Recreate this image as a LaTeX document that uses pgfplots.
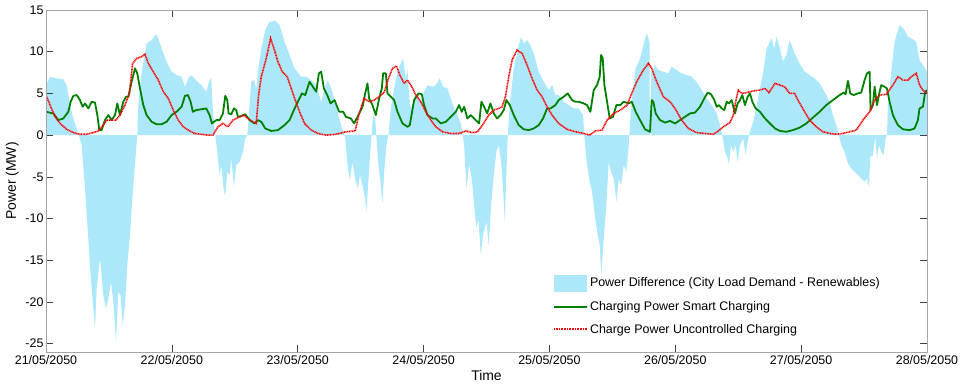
\documentclass[border=0pt]{standalone}
\usepackage{fontspec}
\setmainfont{Liberation Sans}
\usepackage{pgfplots}
\pgfplotsset{compat=1.18}
\usepackage{pgfplotstable}

\definecolor{areacol}{RGB}{172,232,250}
\definecolor{smartgreen}{RGB}{0,128,0}
\definecolor{uncred}{RGB}{255,0,0}

\pgfplotstableread{
h y
0 6.0
0.77 7.0
2.0 6.8
3.31 6.7
3.94 6.0
4.58 3.6
5.21 2.0
5.85 0.8
6.36 -0.2
6.8 -1.2
7.44 -6.4
7.94 -11.2
8.39 -15.6
8.71 -18.4
9.02 -20.8
9.34 -23.2
9.66 -18.4
10.29 -14.8
10.93 -19.2
11.44 -20.8
11.88 -19.6
12.39 -17.6
12.84 -20.0
13.34 -24.8
13.79 -18.8
14.23 -19.2
14.62 -22.8
15.06 -20.4
15.5 -15.6
16.01 -12.0
16.65 -6.0
17.16 -2.0
17.41 0
17.6 3.6
18.24 7.6
19.19 11.0
20.14 11.4
20.97 12.1
21.41 11.6
22.05 10.4
23.0 8.8
23.95 7.6
24.9 7.2
25.86 7.0
26.49 5.8
27.13 6.8
27.7 7.2
28.66 6.6
29.61 6.0
30.56 5.2
31.2 6.6
31.52 6.8
31.83 2.8
32.28 0
32.66 -2.0
33.1 -4.8
33.42 -3.6
33.93 -6.8
34.18 -7.2
34.57 -4.4
35.01 -4.8
35.33 -2.8
35.84 -6.2
36.28 -3.6
36.92 -3.2
37.55 -2.0
38.0 -0.4
38.38 0
38.82 3.6
39.14 6.4
39.65 6.6
40.09 5.6
40.41 7.6
41.05 10.4
41.81 12.6
42.63 13.6
43.71 13.7
44.54 13.2
45.49 11.2
46.45 9.6
47.4 8.0
48.67 7.0
49.62 7.0
50.58 6.6
51.53 6.0
52.48 4.0
53.12 5.6
53.75 6.6
54.39 5.6
55.34 3.6
55.9 2.0
56.67 0.4
57.05 -0.2
57.5 -3.6
57.94 -5.4
58.45 -3.2
58.95 -5.2
59.46 -6.4
59.85 -4.8
60.35 -6.0
60.86 -7.6
61.11 -9.2
61.5 -5.2
61.94 -1.2
62.38 2.4
62.77 2.0
63.02 -0.4
63.4 -3.6
63.85 -6.0
64.16 -8.2
64.48 -4.4
64.93 -1.2
65.31 0
65.75 3.2
66.39 5.6
67.02 7.6
67.66 8.6
68.1 9.2
68.61 6.8
68.93 7.8
69.37 3.6
69.75 3.2
70.2 4.6
70.83 5.0
71.47 4.0
72.1 5.2
72.74 6.0
73.69 5.8
74.33 6.0
75.09 6.8
75.73 5.8
76.55 5.6
77.19 4.4
77.82 3.2
78.46 2.4
79.09 1.4
79.41 0.2
79.73 -1.2
80.17 -6.4
80.68 -3.6
81.19 -5.2
81.64 -8.4
82.08 -11.2
82.46 -10.0
82.91 -14.4
83.35 -12.0
83.99 -10.4
84.43 -13.2
84.88 -8.4
85.39 -4.8
85.89 -2.0
86.34 -1.2
86.78 -3.2
87.16 -6.4
87.48 -10.4
87.8 -4.4
88.05 0
88.44 3.6
89.2 8.0
90.15 10.8
90.6 11.8
91.1 11.0
91.74 11.4
92.37 10.8
93.01 9.8
93.96 7.6
94.92 6.4
95.87 5.4
96.5 6.0
97.14 4.8
97.77 4.8
98.73 4.0
99.68 3.6
100.63 3.2
101.59 3.2
102.41 2.4
102.67 -0.2
103.17 -3.6
103.68 -5.6
104.13 -6.8
104.57 -9.2
105.08 -11.6
105.59 -13.2
105.9 -16.8
106.35 -12.4
106.86 -8.4
107.3 -3.2
107.75 -4.4
108.26 -5.2
108.77 -8.0
109.21 -5.2
109.66 -6.0
110.16 -3.6
110.67 -4.4
111.12 -1.2
111.43 2.0
111.94 5.6
112.45 8.0
113.28 9.2
114.1 11.2
114.55 12.2
114.87 11.6
115.1 11.0
115.15 0
115.35 0
115.4 7.6
115.63 7.6
116.14 8.4
116.77 7.8
117.73 7.6
118.68 7.4
119.31 8.2
120.27 7.8
121.22 7.4
122.17 7.2
123.13 7.0
124.08 6.4
125.03 5.4
125.98 4.4
126.94 3.6
127.89 2.6
128.53 1.2
128.97 0
129.48 -2.0
129.99 -2.8
130.24 -3.6
130.62 -1.2
131.07 -2.0
131.51 -1.2
131.89 -3.2
132.34 -1.2
132.97 -0.4
133.42 -2.4
133.8 -0.8
134.24 0.4
134.88 1.6
135.51 3.6
136.15 5.6
136.78 7.6
137.42 10.4
138.05 11.2
138.37 11.6
138.88 10.4
139.33 11.8
139.96 10.4
140.54 8.8
141.17 9.6
141.81 11.4
142.76 9.8
143.71 8.6
144.66 7.6
145.62 7.2
146.57 6.8
147.52 6.2
148.48 5.2
149.43 4.0
150.06 2.4
150.7 1.2
151.21 0
151.65 -1.2
152.29 -2.0
152.92 -3.4
153.56 -4.0
154.19 -4.4
154.83 -4.8
155.46 -5.2
156.1 -5.6
156.55 -5.2
156.93 -6.2
157.18 -2.6
157.69 -2.4
158.13 -0.2
158.45 -2.8
158.83 -1.2
159.28 -2.0
159.72 -2.4
160.1 -0.4
160.36 0
160.55 3.6
161.18 7.6
161.82 11.2
162.77 13.2
163.72 12.6
164.36 11.8
164.99 11.6
165.95 11.2
166.58 9.0
167.22 8.4
168 7.6
}\areatable

\pgfplotstableread{
h y
0 2.8
1.40 2.6
2.35 1.8
3.31 2.0
4.26 2.8
4.70 4.0
5.21 4.7
5.85 4.8
6.48 4.2
6.99 3.4
7.44 3.8
8.07 3.2
8.71 4.0
9.34 3.9
9.79 2.4
10.17 0.6
10.61 0.6
11.25 1.8
11.88 2.4
12.52 1.8
13.15 2.4
13.6 3.8
14.1 2.4
14.74 4.0
15.25 4.6
15.7 4.6
16.33 6.4
16.97 8.0
17.41 7.4
17.92 5.6
18.55 3.6
19.19 2.4
20.14 1.6
21.1 1.3
22.05 1.3
23.0 1.6
23.95 2.4
24.9 2.8
25.86 3.4
26.49 4.7
27.07 4.8
27.58 4.0
28.0 2.8
28.66 3.0
29.61 3.1
30.56 3.2
31.2 2.4
31.64 1.4
32.47 1.8
33.1 1.8
33.74 2.6
34.18 4.7
34.57 4.2
34.82 2.6
35.33 2.5
35.84 3.2
36.28 3.0
36.6 2.2
37.23 2.3
38.0 2.5
38.82 1.8
39.78 1.4
40.41 1.8
41.05 1.6
41.81 0.8
42.95 0.5
44.22 0.6
45.49 1.2
46.45 1.8
47.27 3.0
48.03 4.0
48.8 5.0
49.43 4.8
50.26 6.4
50.89 5.8
51.53 5.2
52.04 7.4
52.48 7.6
52.99 5.6
53.63 4.8
54.26 3.8
55.02 4.2
55.9 2.8
56.67 2.8
57.18 2.2
58.13 2.0
58.76 1.4
59.72 2.6
60.35 3.4
60.86 5.0
61.3 6.2
61.62 4.4
62.26 3.6
62.89 2.4
63.53 4.4
64.04 5.6
64.29 7.4
64.8 7.4
65.12 5.0
65.75 4.6
66.39 4.2
67.02 2.8
67.98 1.4
68.93 1.0
69.37 1.2
70.2 4.2
71.03 5.0
71.66 4.9
72.1 3.6
72.74 2.4
73.69 2.0
74.33 2.0
75.28 1.4
76.23 1.6
77.19 2.2
78.14 2.8
78.77 3.6
79.28 2.8
79.73 3.4
80.36 2.0
81.0 2.4
81.95 1.8
82.59 1.4
83.03 4.0
83.54 3.4
84.12 2.6
84.75 3.8
85.39 2.6
86.02 2.0
86.66 2.4
87.29 3.0
87.8 4.2
88.44 3.6
89.2 2.4
90.15 1.2
91.1 0.7
92.06 0.6
93.01 0.8
93.96 1.2
94.79 2.0
95.55 3.2
96.19 3.2
97.14 3.6
97.77 4.2
98.73 4.6
99.49 5.0
100.32 4.2
100.95 4.0
101.59 4.0
102.54 3.8
103.17 3.6
103.81 2.8
104.45 5.4
105.08 6.0
105.59 7.0
105.84 9.6
106.16 9.2
106.48 6.0
106.99 4.0
107.5 2.0
108.13 2.2
108.77 3.6
109.53 3.6
110.16 4.0
111.12 3.8
111.69 4.0
112.45 2.8
113.28 1.8
114.23 0.7
115.18 0.4
115.5 4.2
115.82 4.0
116.26 2.6
117.09 1.8
118.04 1.5
118.99 1.7
119.95 1.4
120.9 1.8
121.85 2.2
122.81 2.6
123.76 2.7
124.71 3.4
125.35 4.2
126.17 5.1
126.81 4.9
127.45 4.2
127.89 3.4
128.33 3.6
128.84 3.2
129.35 3.0
129.8 4.0
130.24 3.8
130.75 4.2
131.38 2.6
131.89 3.8
132.34 4.2
132.78 4.8
133.29 3.6
133.8 4.6
134.24 5.0
134.69 4.0
135.32 3.2
136.15 2.8
137.1 2.0
138.05 1.4
139.01 0.8
139.96 0.5
141.17 0.4
142.44 0.6
143.71 0.9
144.98 1.4
146.25 2.1
147.52 2.8
148.79 3.6
150.06 4.2
151.34 4.8
152.1 5.1
152.48 4.9
152.92 6.5
153.37 5.0
154.0 4.8
154.83 5.0
155.46 5.1
156.1 6.6
156.55 7.4
157.05 7.6
157.24 3.0
157.69 3.6
158.01 5.8
158.45 3.6
158.96 5.2
159.28 6.0
159.91 5.8
160.36 5.6
160.86 4.0
161.5 2.4
162.45 1.2
163.41 0.7
164.68 0.6
165.63 0.8
166.26 1.8
166.58 3.2
167.22 3.4
167.66 5.2
168 5.4
}\greentable

\pgfplotstableread{
h y
0 4.8
0.77 3.6
1.72 2.2
2.67 1.4
3.94 0.7
5.21 0.3
6.48 0.1
7.75 0.1
9.02 0.3
9.98 0.5
10.93 1.2
11.57 1.8
12.52 1.8
13.34 1.8
14.1 2.4
15.06 3.6
15.89 5.0
16.52 8.6
17.28 9.2
18.24 9.4
18.87 9.7
19.51 8.6
20.46 7.6
21.41 6.6
22.37 5.2
23.32 4.4
24.27 3.0
25.22 1.8
26.18 1.0
27.13 0.6
28.34 0.2
29.61 0.1
30.88 0
31.83 0
32.79 1.0
33.74 1.4
34.69 1.0
35.65 1.8
36.6 2.1
37.74 2.4
38.5 2.0
39.46 1.6
40.09 1.4
40.54 4.8
41.05 7.0
42.0 9.2
42.83 11.6
43.46 10.4
44.22 8.8
45.05 7.6
46.0 7.0
46.76 5.6
47.53 4.2
48.35 2.8
49.3 1.4
50.58 0.6
51.85 0.2
53.43 0
55.27 0.1
57.18 0.4
58.95 0.5
59.72 2.6
60.67 4.4
61.62 4.0
62.58 4.2
63.53 4.6
64.48 5.1
65.31 6.8
66.07 8.0
66.83 8.3
67.47 7.2
68.29 6.2
68.93 6.6
69.75 5.8
70.52 4.8
71.47 4.0
72.42 2.8
73.38 1.8
74.33 1.0
75.6 0.4
77.19 0.2
78.78 0.2
80.05 0.5
81.32 0.3
82.27 0.4
83.22 1.2
84.43 2.4
85.39 3.0
86.34 3.2
86.97 3.4
87.61 4.6
88.24 7.0
88.88 9.0
89.83 10.2
90.79 9.8
91.74 8.4
92.69 6.8
93.64 5.4
94.6 4.6
95.55 3.4
96.5 2.4
97.77 1.4
99.36 0.7
100.95 0.4
102.54 0.2
103.68 0
104.76 0.5
106.03 0.6
106.99 1.8
108.26 2.6
109.53 3.0
110.8 3.6
111.69 5.0
112.64 6.4
113.91 7.8
114.87 8.6
115.5 8.0
116.45 6.4
117.73 4.6
119.0 4.0
119.95 3.2
121.22 1.8
122.49 0.8
124.08 0.3
125.67 0.2
127.26 0.1
128.21 0.5
129.16 1.0
130.43 1.5
131.07 2.4
131.51 4.0
132.02 5.4
132.65 5.0
133.61 5.1
134.88 5.3
136.15 5.4
137.1 5.6
137.86 5.1
139.01 6.2
139.96 6.0
140.85 5.8
141.81 5.0
142.76 5.0
143.39 4.2
144.66 2.8
145.62 1.8
146.89 1.0
148.16 0.4
149.43 0.2
150.7 0.1
151.97 0.2
153.24 0.4
154.51 0.6
155.78 1.8
157.05 2.8
158.01 4.2
158.96 4.8
160.23 4.9
161.5 6.0
162.45 7.0
163.41 6.6
164.36 6.6
165.0 7.0
165.95 7.4
166.58 6.0
167.22 5.4
168 5.0
}\redtable

\begin{document}
\begin{tikzpicture}
\path[use as bounding box] (-46bp,-32bp) rectangle (918bp,352bp);
\begin{axis}[
  at={(0,0)}, anchor=south west,
  scale only axis, width=881bp, height=342bp,
  xmin=0, xmax=168, ymin=-26, ymax=15,
  xtick={0,24,48,72,96,120,144,168},
  xticklabels={21/05/2050,22/05/2050,23/05/2050,24/05/2050,25/05/2050,26/05/2050,27/05/2050,28/05/2050},
  ytick={-25,-20,-15,-10,-5,0,5,10,15},
  yticklabels={-25,-20,-15,-10,-5,0,5,10,15},
  tick label style={font=\fontsize{12.5}{14}\selectfont, text=black},
  xticklabel style={yshift=0bp},
  yticklabel style={xshift=1bp},
  xlabel={Time}, ylabel={Power (MW)},
  label style={font=\fontsize{14}{16}\selectfont},
  xlabel style={yshift=1bp},
  ylabel style={yshift=0bp},
  axis line style={draw=black!35, line width=0.8pt},
  major tick length=7bp,
  tick style={black!75, line width=0.6pt},
  axis on top,
  clip=true,
  legend cell align=left,
  legend style={at={(axis description cs:0.5755,0.226)}, anchor=north west,
    draw=none, fill=none, font=\fontsize{12.5}{14}\selectfont,
    row sep=8bp, inner sep=0pt},
]
\addplot[fill=areacol, draw=none,
  legend image code/.code={\fill[areacol] (0bp,-8.3bp) rectangle (33bp,8.3bp);}]
  table[x=h,y=y] {\areatable} \closedcycle;
\addlegendentry{Power Difference (City Load Demand - Renewables)}
\addplot[smartgreen, line width=1.8bp, line join=round,
  legend image code/.code={\draw[smartgreen, line width=1.8bp] (0bp,0bp) -- (33bp,0bp);}]
  table[x=h,y=y] {\greentable};
\addlegendentry{Charging Power Smart Charging}
\addplot[uncred, line width=1.6bp, dash pattern=on 1bp off 0.6bp,
  legend image code/.code={\draw[uncred, line width=1.6bp, dash pattern=on 1bp off 0.6bp] (0bp,0bp) -- (33bp,0bp);}]
  table[x=h,y=y] {\redtable};
\addlegendentry{Charge Power Uncontrolled Charging}
\end{axis}
\end{tikzpicture}
\end{document}
